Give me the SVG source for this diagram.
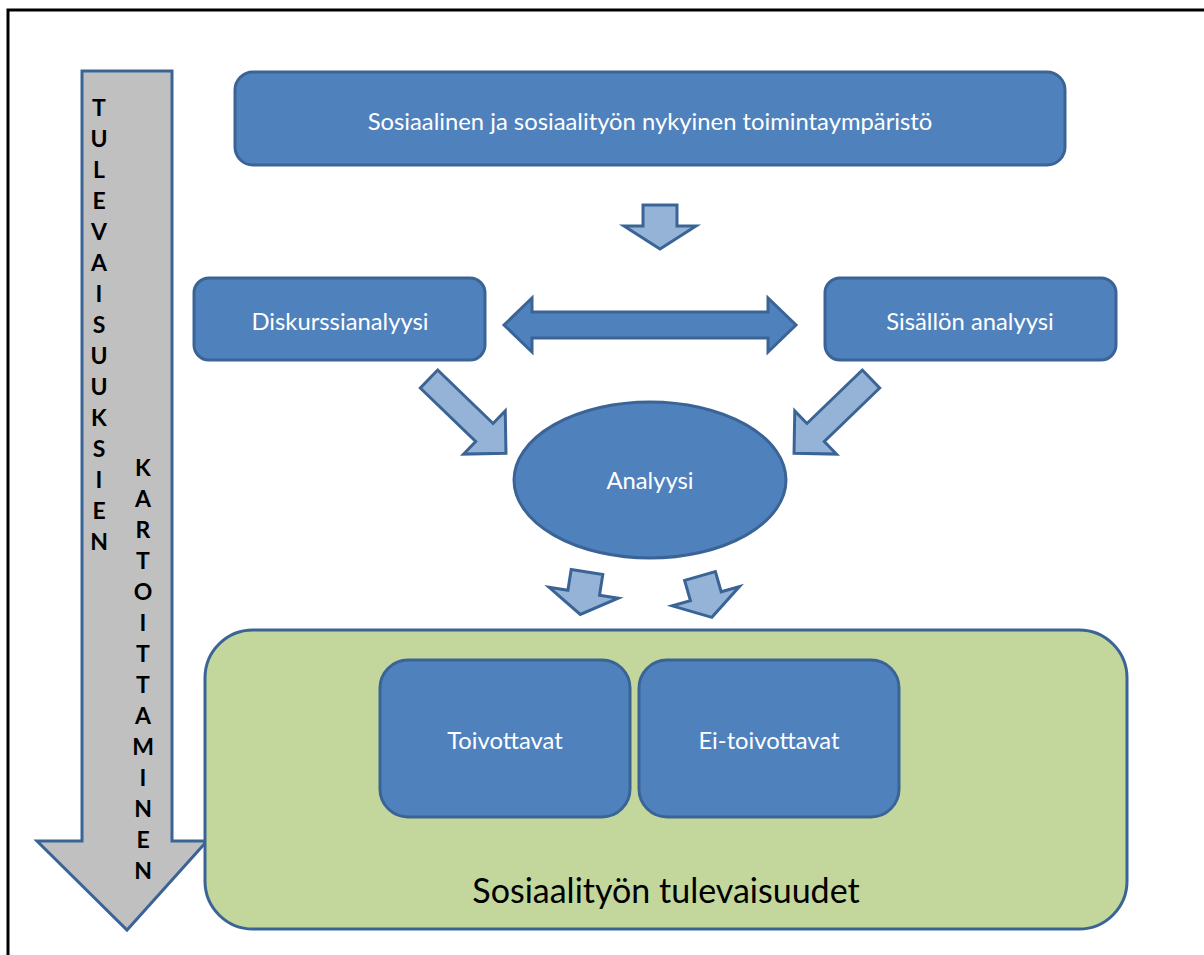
<svg xmlns="http://www.w3.org/2000/svg" width="1204" height="955" viewBox="0 0 1204 955">
<style>
.box{fill:#4F81BD;stroke:#3B6496;stroke-width:3}
.lt{fill:#95B3D7;stroke:#3B6496;stroke-width:3;stroke-linejoin:miter}
.wt{font-family:Lato,"Open Sans",sans-serif;fill:#ffffff;font-size:23.8px;text-anchor:middle;dominant-baseline:central}
.vl{font-family:Lato,"Open Sans",sans-serif;font-weight:bold;fill:#000;font-size:23px;text-anchor:middle;dominant-baseline:central}
</style>
<rect x="0" y="0" width="1204" height="955" fill="#ffffff"/>
<rect x="8" y="10" width="1250" height="1000" fill="none" stroke="#000" stroke-width="3"/>

<g id="side-arrow">
<path d="M82,71 L172,71 L172,841 L207,841 L127,930 L37,841 L82,841 Z" fill="#C0C0C0" stroke="#3B6496" stroke-width="3" stroke-linejoin="miter"/>
<g class="vl-col">
<text class="vl" x="99" y="107">T</text>
<text class="vl" x="99" y="138">U</text>
<text class="vl" x="99" y="169">L</text>
<text class="vl" x="99" y="200">E</text>
<text class="vl" x="99" y="231">V</text>
<text class="vl" x="99" y="262">A</text>
<text class="vl" x="99" y="293">I</text>
<text class="vl" x="99" y="324">S</text>
<text class="vl" x="99" y="355">U</text>
<text class="vl" x="99" y="386">U</text>
<text class="vl" x="99" y="417">K</text>
<text class="vl" x="99" y="448">S</text>
<text class="vl" x="99" y="479">I</text>
<text class="vl" x="99" y="510">E</text>
<text class="vl" x="99" y="541">N</text>
</g>
<g class="vl-col">
<text class="vl" x="143" y="467">K</text>
<text class="vl" x="143" y="498">A</text>
<text class="vl" x="143" y="529">R</text>
<text class="vl" x="143" y="560">T</text>
<text class="vl" x="143" y="591">O</text>
<text class="vl" x="143" y="622">I</text>
<text class="vl" x="143" y="653">T</text>
<text class="vl" x="143" y="684">T</text>
<text class="vl" x="143" y="715">A</text>
<text class="vl" x="143" y="746">M</text>
<text class="vl" x="143" y="777">I</text>
<text class="vl" x="143" y="808">N</text>
<text class="vl" x="143" y="839">E</text>
<text class="vl" x="143" y="870">N</text>
</g>
</g>

<g id="top-node">
<rect class="box" x="235" y="72" width="830" height="93" rx="18"/>
<text class="wt" x="650" y="121">Sosiaalinen ja sosiaalityön nykyinen toimintaympäristö</text>
</g>

<g id="diskurssi-node">
<rect class="box" x="194" y="278" width="291" height="82" rx="15"/>
<text class="wt" x="340" y="321">Diskurssianalyysi</text>
</g>

<g id="sisallon-node">
<rect class="box" x="825" y="278" width="291" height="82" rx="15"/>
<text class="wt" x="970" y="321">Sisällön analyysi</text>
</g>

<g id="analyysi-node">
<ellipse class="box" cx="650" cy="480" rx="136" ry="78"/>
<text class="wt" x="650" y="480">Analyysi</text>
</g>

<g id="futures-node">
<rect x="205" y="630" width="922" height="299" rx="48" fill="#C3D69B" stroke="#3B6496" stroke-width="3"/>
<text x="666" y="889" font-family="Lato,'Open Sans',sans-serif" font-size="34" fill="#000" text-anchor="middle" dominant-baseline="central">Sosiaalityön tulevaisuudet</text>
</g>

<g id="toivottavat-node">
<rect class="box" x="380" y="660" width="250" height="157" rx="28"/>
<text class="wt" x="505" y="740">Toivottavat</text>
</g>

<g id="ei-toivottavat-node">
<rect class="box" x="639" y="660" width="260" height="157" rx="28"/>
<text class="wt" x="769" y="740">Ei-toivottavat</text>
</g>

<g id="connectors">
<path class="lt" d="M643,205 L677,205 L677,226 L696,226 L660,249 L624,226 L643,226 Z"/>
<path class="box" d="M504,325 L532,298 L532,312 L768,312 L768,298 L796,325 L768,352 L768,338 L532,338 L532,352 Z"/>
<path class="lt" transform="translate(429,379) rotate(44)" d="M0,-12.5 L77,-12.5 L77,-30 L107,0 L77,30 L77,12.5 L0,12.5 Z"/>
<path class="lt" transform="translate(871,379) rotate(136)" d="M0,-12.5 L77,-12.5 L77,-30 L107,0 L77,30 L77,12.5 L0,12.5 Z"/>
<path class="lt" transform="translate(587,572) rotate(9)" d="M-16,0 L16,0 L16,21 L35,21 L0,43 L-35,21 L-16,21 Z"/>
<path class="lt" transform="translate(700,576) rotate(-16)" d="M-16,0 L16,0 L16,21 L35,21 L0,43 L-35,21 L-16,21 Z"/>
</g>
</svg>
